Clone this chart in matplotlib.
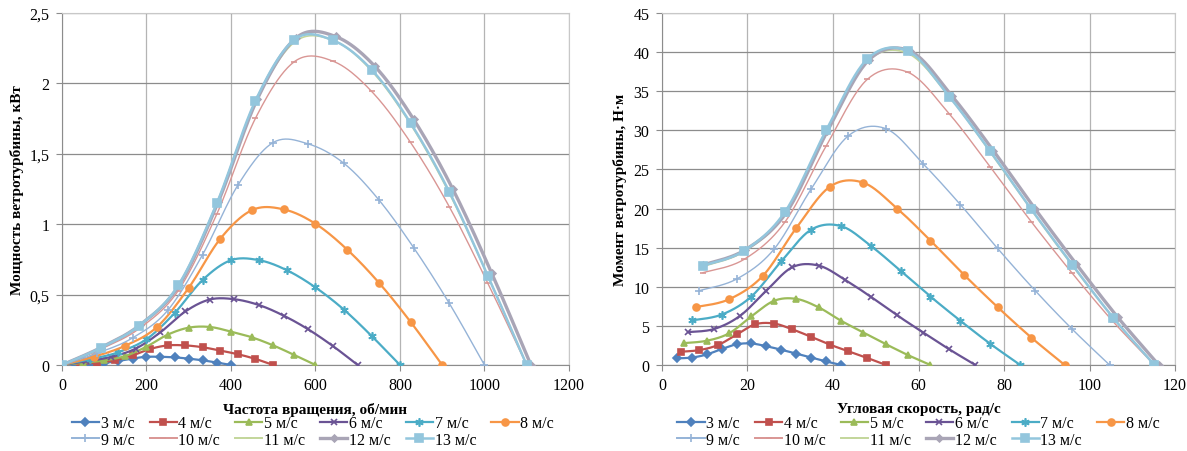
import numpy as np
import matplotlib
matplotlib.use("Agg")
import matplotlib.pyplot as plt
from matplotlib.lines import Line2D
from matplotlib.ticker import MultipleLocator, FuncFormatter

plt.rcParams['font.family'] = ['Liberation Serif', 'DejaVu Serif']

# wind speeds, m/s
speeds = [3, 4, 5, 6, 7, 8, 9, 10, 11, 12, 13]
labels = ['%d м/с' % v for v in speeds]

# rotation frequency, rpm (13 points per series)
rpm = [
    [0, 33, 67, 100, 133, 167, 200, 233, 267, 300, 333, 367, 400],
    [0, 42, 83, 125, 167, 208, 250, 292, 333, 375, 417, 458, 500],
    [0, 50, 100, 150, 200, 250, 300, 350, 400, 450, 500, 550, 600],
    [0, 58, 117, 175, 233, 292, 350, 408, 467, 525, 583, 642, 700],
    [0, 67, 133, 200, 267, 333, 400, 467, 533, 600, 667, 733, 800],
    [0, 75, 150, 225, 300, 375, 450, 525, 600, 675, 750, 825, 900],
    [0, 83, 167, 250, 333, 417, 500, 583, 667, 750, 833, 917, 1000],
    [0, 92, 183, 275, 367, 458, 550, 642, 733, 825, 917, 1008, 1100],
    [0, 92, 183, 275, 367, 458, 550, 642, 733, 825, 917, 1008, 1100],
    [0, 92.5, 185, 277.5, 370, 462.5, 555, 647.5, 740, 832.5, 925, 1017.5, 1110],
    [0, 92, 183, 275, 367, 458, 550, 642, 733, 825, 917, 1008, 1100],
]

# turbine power, kW
power = [
    [0, 0.003, 0.007, 0.014, 0.029, 0.046, 0.058, 0.058, 0.054, 0.045, 0.033, 0.017, 0],
    [0, 0.007, 0.017, 0.033, 0.068, 0.113, 0.139, 0.139, 0.126, 0.102, 0.076, 0.043, 0],
    [0, 0.015, 0.032, 0.064, 0.13, 0.215, 0.265, 0.27, 0.237, 0.196, 0.139, 0.071, 0],
    [0, 0.026, 0.058, 0.117, 0.232, 0.38, 0.465, 0.467, 0.425, 0.35, 0.253, 0.133, 0],
    [0, 0.040, 0.09, 0.183, 0.37, 0.604, 0.744, 0.744, 0.672, 0.551, 0.394, 0.206, 0],
    [0, 0.058, 0.137, 0.27, 0.548, 0.897, 1.10, 1.105, 1.003, 0.82, 0.585, 0.307, 0],
    [0, 0.083, 0.192, 0.387, 0.784, 1.28, 1.58, 1.57, 1.433, 1.173, 0.831, 0.437, 0],
    [0, 0.113, 0.259, 0.527, 1.075, 1.752, 2.154, 2.157, 1.943, 1.581, 1.123, 0.581, 0],
    [0, 0.121, 0.278, 0.556, 1.144, 1.862, 2.292, 2.305, 2.089, 1.711, 1.219, 0.634, 0],
    [0, 0.124, 0.285, 0.567, 1.159, 1.889, 2.325, 2.333, 2.123, 1.744, 1.250, 0.650, 0],
    [0, 0.122, 0.280, 0.565, 1.152, 1.877, 2.310, 2.305, 2.097, 1.719, 1.229, 0.634, 0],
]

# angular speed, rad/s (point at zero omitted)
omega = [
    [3.5, 7.0, 10.5, 14.0, 17.5, 20.9, 24.4, 27.9, 31.4, 34.9, 38.4, 41.9],
    [4.4, 8.7, 13.1, 17.5, 21.8, 26.2, 30.5, 34.9, 39.3, 43.6, 48.0, 52.4],
    [5.2, 10.5, 15.7, 20.9, 26.2, 31.4, 36.7, 41.9, 47.1, 52.4, 57.6, 62.8],
    [6.1, 12.2, 18.3, 24.4, 30.5, 36.7, 42.8, 48.9, 55.0, 61.1, 67.2, 73.3],
    [7.0, 14.0, 20.9, 27.9, 34.9, 41.9, 48.9, 55.9, 62.8, 69.8, 76.8, 83.8],
    [7.9, 15.7, 23.6, 31.4, 39.3, 47.1, 55.0, 62.8, 70.7, 78.5, 86.4, 94.2],
    [8.7, 17.5, 26.2, 34.9, 43.6, 52.4, 61.1, 69.8, 78.5, 87.3, 96.0, 104.7],
    [9.6, 19.2, 28.8, 38.4, 48.0, 57.6, 67.2, 76.8, 86.4, 96.0, 105.6, 115.2],
    [9.6, 19.2, 28.8, 38.4, 48.0, 57.6, 67.2, 76.8, 86.4, 96.0, 105.6, 115.2],
    [9.7, 19.4, 29.1, 38.7, 48.4, 58.1, 67.8, 77.5, 87.2, 96.9, 106.6, 116.2],
    [9.6, 19.2, 28.8, 38.4, 48.0, 57.6, 67.2, 76.8, 86.4, 96.0, 105.6, 115.2],
]

# turbine torque, N*m
torque = [
    [0.85, 0.95, 1.35, 2.05, 2.65, 2.75, 2.4, 1.95, 1.45, 0.95, 0.45, 0],
    [1.7, 1.9, 2.55, 3.9, 5.2, 5.3, 4.55, 3.6, 2.6, 1.75, 0.9, 0],
    [2.8, 3.1, 4.05, 6.2, 8.2, 8.45, 7.35, 5.65, 4.15, 2.65, 1.25, 0],
    [4.2, 4.6, 6.3, 9.5, 12.5, 12.7, 10.9, 8.7, 6.35, 4.15, 2.0, 0],
    [5.7, 6.45, 8.75, 13.25, 17.3, 17.75, 15.2, 12.0, 8.75, 5.65, 2.7, 0],
    [7.4, 8.4, 11.4, 17.5, 22.8, 23.3, 20.0, 15.9, 11.5, 7.4, 3.5, 0],
    [9.5, 11.0, 14.8, 22.5, 29.3, 30.2, 25.7, 20.5, 14.9, 9.5, 4.55, 0],
    [11.8, 13.5, 18.3, 28.0, 36.5, 37.4, 32.1, 25.3, 18.3, 11.7, 5.5, 0],
    [12.6, 14.5, 19.3, 29.8, 38.8, 39.8, 34.3, 27.2, 19.8, 12.7, 6.0, 0],
    [12.8, 14.7, 19.5, 29.9, 39.0, 40.1, 34.4, 27.4, 20.0, 12.9, 6.1, 0],
    [12.7, 14.6, 19.6, 30.0, 39.1, 40.1, 34.3, 27.3, 19.9, 12.8, 6.0, 0],
]

colors = ['#4F81BD', '#C0504D', '#9BBB59', '#6A5394', '#4BACC6', '#F79646',
          '#95B3D7', '#D99694', '#C3D69B', '#A9A5B6', '#93C6DD']
markers = ['D', 's', '^', 'x', (6, 2, 0), 'o', '+', '_', '_', 'D', 's']
msizes = [4, 5, 5, 5, 6, 5, 6, 5, 5, 3.5, 6]
lwidths = [1.6, 1.6, 1.6, 1.6, 1.6, 1.6, 1.0, 1.0, 1.2, 2.4, 1.8]


def smooth(x, y, n=24):
    # excel-like smoothed line (catmull-rom through the points)
    x = np.asarray(x, float)
    y = np.asarray(y, float)
    px = np.concatenate([[x[0]], x, [x[-1]]])
    py = np.concatenate([[y[0]], y, [y[-1]]])
    t = np.linspace(0, 1, n)
    xs, ys = [], []
    for i in range(1, len(px) - 2):
        for p, out in ((px, xs), (py, ys)):
            p0, p1, p2, p3 = p[i - 1], p[i], p[i + 1], p[i + 2]
            m1 = (p2 - p0) / 2
            m2 = (p3 - p1) / 2
            h00 = 2 * t**3 - 3 * t**2 + 1
            h10 = t**3 - 2 * t**2 + t
            h01 = -2 * t**3 + 3 * t**2
            h11 = t**3 - t**2
            out.append(h00 * p1 + h10 * m1 + h01 * p2 + h11 * m2)
    return np.concatenate(xs), np.concatenate(ys)


def comma(v, pos):
    s = ('%g' % v)
    return s.replace('.', ',')


def style_axes(ax):
    ax.set_axisbelow(True)
    ax.grid(axis='y', color='#8C8C8C', lw=0.9)
    ax.grid(axis='x', color='#B4B4B4', lw=0.9)
    for side in ['top', 'right']:
        ax.spines[side].set_color('#C8C8C8')
    for side in ['left', 'bottom']:
        ax.spines[side].set_color('#8C8C8C')
    ax.tick_params(length=4, color='#8C8C8C', labelsize=11.5, pad=5)


fig = plt.figure(figsize=(11.87, 4.52), dpi=100)
ax1 = fig.add_axes([0.0522, 0.1903, 0.4271, 0.7788])
ax2 = fig.add_axes([0.5577, 0.1903, 0.4322, 0.7788])

handles = []
for k in range(len(speeds)):
    mk = markers[k]
    line_marker_kw = dict(marker=mk, ms=msizes[k], color=colors[k],
                          mec=colors[k], mew=1.2, ls='none', zorder=3 + k)
    xs, ys = smooth(rpm[k], power[k])
    ax1.plot(xs, ys, color=colors[k], lw=lwidths[k], zorder=3 + k)
    ax1.plot(rpm[k], power[k], **line_marker_kw)
    xs, ys = smooth(omega[k], torque[k])
    ax2.plot(xs, ys, color=colors[k], lw=lwidths[k], zorder=3 + k)
    ax2.plot(omega[k], torque[k], **line_marker_kw)
    handles.append(Line2D([], [], color=colors[k], lw=max(lwidths[k], 1.4),
                          marker=mk, ms=msizes[k], mec=colors[k], mew=1.2))

ax1.set_xlim(0, 1200)
ax1.set_ylim(0, 2.5)
ax1.xaxis.set_major_locator(MultipleLocator(200))
ax1.yaxis.set_major_locator(MultipleLocator(0.5))
ax1.yaxis.set_major_formatter(FuncFormatter(comma))
ax1.set_xlabel('Частота вращения, об/мин', fontsize=11, fontweight='bold', labelpad=6)
ax1.set_ylabel('Мощность ветротурбины, кВт', fontsize=11, fontweight='bold', labelpad=4)
style_axes(ax1)

ax2.set_xlim(0, 120)
ax2.set_ylim(0, 45)
ax2.xaxis.set_major_locator(MultipleLocator(20))
ax2.yaxis.set_major_locator(MultipleLocator(5))
ax2.set_xlabel('Угловая скорость, рад/с', fontsize=11, fontweight='bold', labelpad=6)
ax2.set_ylabel('Момент ветротурбины, Н·м', fontsize=11, fontweight='bold', labelpad=5)
style_axes(ax2)

# legend in row order: 3..8 on first row, 9..13 on second
order = [0, 6, 1, 7, 2, 8, 3, 9, 4, 10, 5]
for ax, xc in ((ax1, 0.495), (ax2, 0.50)):
    ax.legend([handles[i] for i in order], [labels[i] for i in order],
              ncol=6, loc='upper center', bbox_to_anchor=(xc, -0.138),
              frameon=False, fontsize=11.5, handlelength=1.7, handletextpad=0.1,
              columnspacing=0.95, labelspacing=0.05, numpoints=1,
              borderaxespad=0, borderpad=0.1)

fig.savefig('out.png', dpi=100)
